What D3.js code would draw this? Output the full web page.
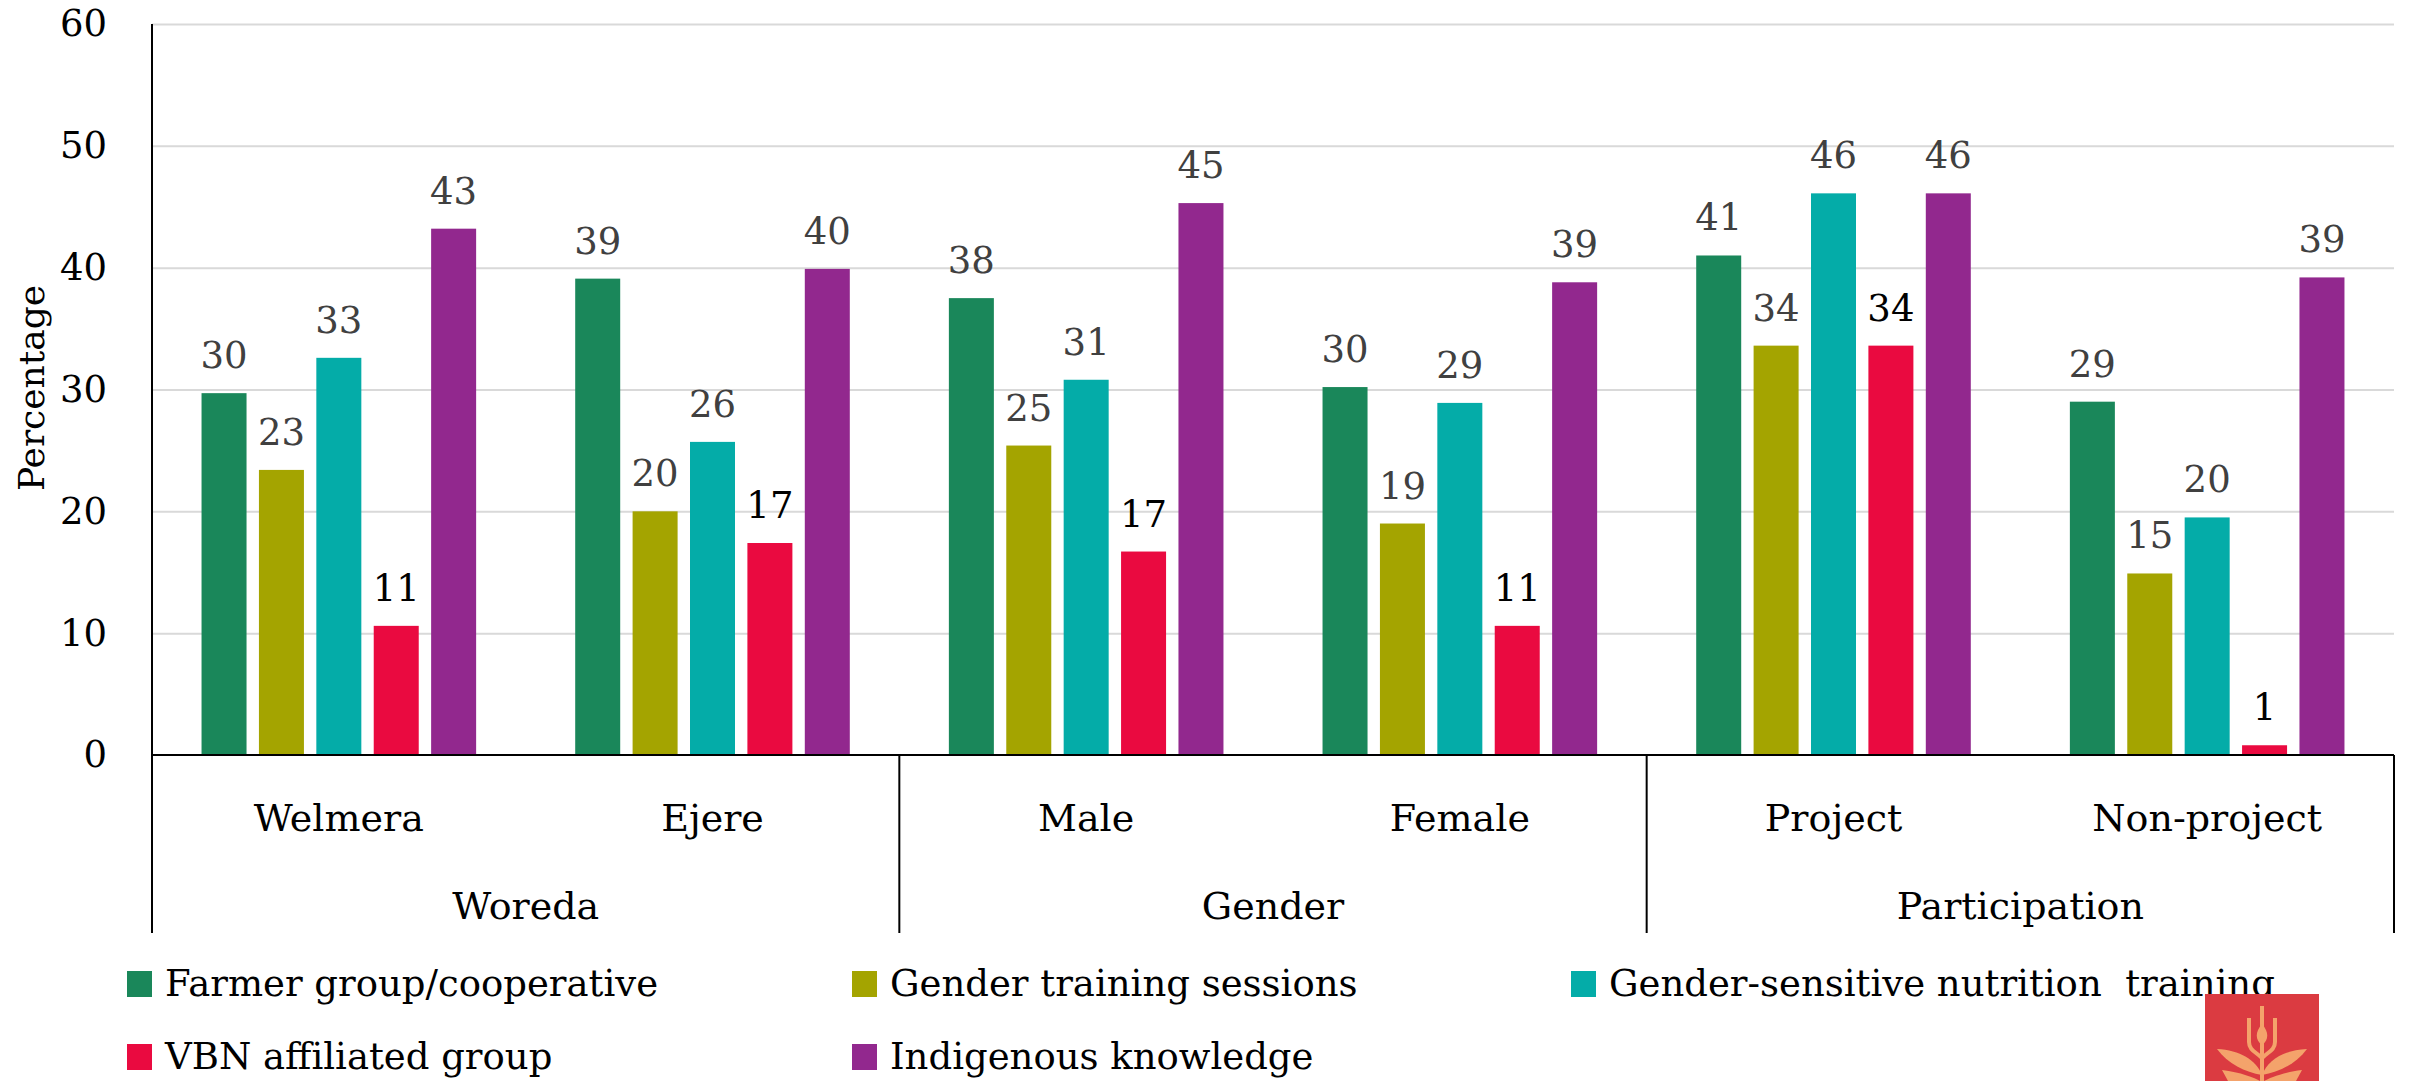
<!DOCTYPE html>
<html>
<head>
<meta charset="utf-8">
<script src="https://cdn.jsdelivr.net/npm/d3@7"></script>
<style>
  html, body { margin: 0; padding: 0; background: #fff; }
  svg { display: block; }
</style>
</head>
<body>
<svg id="chart" width="2415" height="1081"></svg>
<script>
// ---- data ----
const groups = ["Woreda", "Gender", "Participation"];
const categories = ["Welmera", "Ejere", "Male", "Female", "Project", "Non-project"];
const categoryGroup = ["Woreda", "Woreda", "Gender", "Gender", "Participation", "Participation"];
const seriesNames = [
  "Farmer group/cooperative",
  "Gender training sessions",
  "Gender-sensitive nutrition  training",
  "VBN affiliated group",
  "Indigenous knowledge"
];
const seriesColors = ["#1a875a", "#a4a400", "#04aca8", "#ea0a40", "#92288e"];
const labelColors = ["#404040", "#404040", "#404040", "#000000", "#404040"];
const farmerGroup   = [29.7, 39.1, 37.5, 30.2, 41.0, 29.0];
const genderTrain   = [23.4, 20.0, 25.4, 19.0, 33.6, 14.9];
const nutritionTr   = [32.6, 25.7, 30.8, 28.9, 46.1, 19.5];
const vbnGroup      = [10.6, 17.4, 16.7, 10.6, 33.6, 0.8];
const indigenous    = [43.2, 39.9, 45.3, 38.8, 46.1, 39.2];
const seriesValues = [farmerGroup, genderTrain, nutritionTr, vbnGroup, indigenous];
const yTicks = [0, 10, 20, 30, 40, 50, 60];
const yTitle = "Percentage";

// ---- layout ----
const FONT = "DejaVu Serif";
const svg = d3.select("#chart").attr("font-family", FONT);
const plotLeft = 152, plotRight = 2394, plotTop = 24, plotBottom = 755, axisBottom = 933;

const x0 = d3.scaleBand().domain(categories).range([plotLeft, plotRight]).padding(0);
const x1 = d3.scaleBand().domain(d3.range(seriesNames.length))
  .range([0, x0.bandwidth()]).paddingInner(0.216).paddingOuter(0.863);
const y = d3.scaleLinear().domain([0, 60]).range([plotBottom, plotTop]);

// gridlines
svg.append("g")
  .attr("transform", `translate(${plotLeft},0)`)
  .call(d3.axisLeft(y).tickValues(yTicks.filter(d => d > 0)).tickSize(-(plotRight - plotLeft)).tickFormat(""))
  .call(g => g.select(".domain").remove())
  .call(g => g.selectAll("line").attr("stroke", "#d9d9d9").attr("stroke-width", 2));

// y tick labels
svg.append("g")
  .attr("transform", `translate(${plotLeft},0)`)
  .call(d3.axisLeft(y).tickValues(yTicks).tickSize(0).tickPadding(45))
  .attr("font-family", FONT)
  .call(g => g.select(".domain").remove())
  .call(g => g.selectAll("text").attr("font-size", 37).attr("fill", "#000"));

// y title
svg.append("text")
  .attr("transform", `translate(44,388) rotate(-90)`)
  .attr("text-anchor", "middle")
  .attr("font-family", FONT)
  .attr("font-size", 36)
  .attr("fill", "#000")
  .text(yTitle);

// bars + labels
const cat = svg.append("g").selectAll("g")
  .data(categories)
  .join("g")
  .attr("transform", d => `translate(${x0(d)},0)`);

cat.each(function(c, ci) {
  const g = d3.select(this);
  seriesValues.forEach((vals, si) => {
    const v = vals[ci];
    g.append("rect")
      .attr("x", x1(si))
      .attr("width", x1.bandwidth())
      .attr("y", y(v))
      .attr("height", y(0) - y(v))
      .attr("fill", seriesColors[si]);
    g.append("text")
      .attr("x", x1(si) + x1.bandwidth() / 2)
      .attr("y", y(v) - 25)
      .attr("text-anchor", "middle")
      .attr("font-family", FONT)
      .attr("font-size", 37)
      .attr("fill", labelColors[si])
      .text(d3.format(".0f")(v));
  });
});

// axis lines
svg.append("line").attr("x1", plotLeft).attr("x2", plotRight).attr("y1", plotBottom).attr("y2", plotBottom)
  .attr("stroke", "#000").attr("stroke-width", 2);
svg.append("line").attr("x1", plotLeft).attr("x2", plotLeft).attr("y1", plotTop).attr("y2", axisBottom)
  .attr("stroke", "#000").attr("stroke-width", 2);

// group separators and labels
const groupBounds = groups.map(gName => {
  const cs = categories.filter((c, i) => categoryGroup[i] === gName);
  return { name: gName, x0: x0(cs[0]), x1: x0(cs[cs.length - 1]) + x0.bandwidth() };
});
groupBounds.forEach(gb => {
  svg.append("line").attr("x1", gb.x1).attr("x2", gb.x1).attr("y1", plotBottom).attr("y2", axisBottom)
    .attr("stroke", "#000").attr("stroke-width", 2);
  svg.append("text")
    .attr("x", (gb.x0 + gb.x1) / 2).attr("y", 919)
    .attr("text-anchor", "middle").attr("font-family", FONT).attr("font-size", 38).attr("fill", "#000")
    .text(gb.name);
});

// category labels
svg.append("g").selectAll("text").data(categories).join("text")
  .attr("x", d => x0(d) + x0.bandwidth() / 2)
  .attr("y", 831)
  .attr("text-anchor", "middle")
  .attr("font-family", FONT)
  .attr("font-size", 38)
  .attr("fill", "#000")
  .text(d => d);

// legend
const legendPos = [[127, 971], [852, 971], [1571, 971], [127, 1044], [852, 1044]];
seriesNames.forEach((name, i) => {
  const [lx, ly] = legendPos[i];
  svg.append("rect").attr("x", lx).attr("y", ly).attr("width", 25).attr("height", 26)
    .attr("fill", seriesColors[i]);
  svg.append("text").attr("x", lx + 38).attr("y", ly + 25)
    .attr("font-family", FONT)
    .attr("font-size", 37).attr("fill", "#000")
    .style("white-space", "pre")
    .text(name);
});

// logo (decorative)
const logo = svg.append("g");
logo.append("rect").attr("x", 2205).attr("y", 994).attr("width", 114).attr("height", 87).attr("fill", "#db3b41");
const lc = "#f4a36b";
logo.append("line").attr("x1", 2262).attr("x2", 2262).attr("y1", 1006).attr("y2", 1081).attr("stroke", lc).attr("stroke-width", 4);
logo.append("path").attr("d", "M2262,1024 C2255,1032 2255,1040 2262,1045 C2269,1040 2269,1032 2262,1024 Z").attr("fill", lc);
logo.append("path").attr("d", "M2249,1018 L2249,1042 C2249,1050 2256,1052 2262,1058").attr("fill", "none").attr("stroke", lc).attr("stroke-width", 4);
logo.append("path").attr("d", "M2275,1018 L2275,1042 C2275,1050 2268,1052 2262,1058").attr("fill", "none").attr("stroke", lc).attr("stroke-width", 4);
logo.append("path").attr("d", "M2217,1049 C2240,1050 2256,1060 2262,1075 C2245,1072 2228,1064 2217,1049 Z").attr("fill", lc);
logo.append("path").attr("d", "M2307,1049 C2284,1050 2268,1060 2262,1075 C2279,1072 2296,1064 2307,1049 Z").attr("fill", lc);
logo.append("path").attr("d", "M2222,1070 C2240,1072 2255,1078 2260,1081 L2228,1081 Z").attr("fill", lc);
logo.append("path").attr("d", "M2302,1070 C2284,1072 2269,1078 2264,1081 L2296,1081 Z").attr("fill", lc);
</script>
</body>
</html>
